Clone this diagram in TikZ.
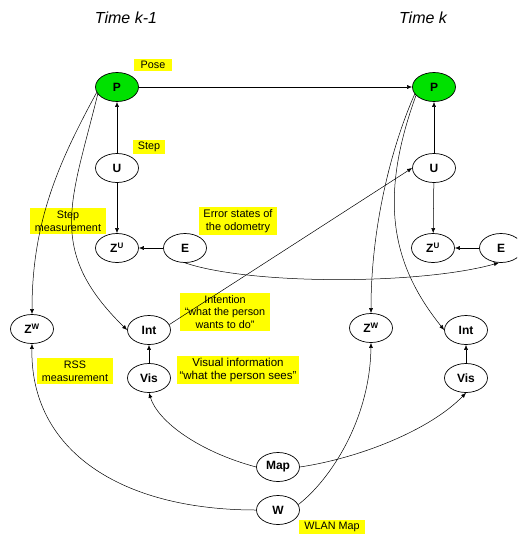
\documentclass[tikz,border=0pt]{standalone}
\usepackage{fontspec}
\setmainfont{Liberation Sans}
\usetikzlibrary{shapes.geometric,arrows.meta}
\definecolor{posegreen}{RGB}{0,225,0}
\definecolor{labyellow}{RGB}{255,255,0}
\tikzset{
  var/.style={ellipse,draw,line width=0.7pt,minimum width=43pt,minimum height=29pt,inner sep=0pt,font=\fontsize{12}{14}\selectfont\bfseries},
  posevar/.style={var,fill=posegreen},
  lab/.style={fill=labyellow,inner xsep=5pt,inner ysep=2.5pt,align=center,font=\fontsize{10.8}{12.8}\selectfont},
  ttl/.style={font=\fontsize{16}{18}\selectfont\itshape},
  arr/.style={-{Latex[length=5pt,width=4pt]},line width=0.5pt}
}
\begin{document}
\begin{tikzpicture}[x=1pt,y=1pt]
\useasboundingbox (0,0) rectangle (517,-535);
\clip (0,0) rectangle (517,-535);
% titles
\node[ttl] (t1) at (126,-18) {Time k-1};
\node[ttl] (t2) at (423,-18) {Time k};
% nodes time k-1
\node[posevar] (P1) at (117,-87) {P};
\node[var] (U1) at (117,-168) {U};
\node[var] (ZU1) at (117,-248) {Z\textsuperscript{U}};
\node[var] (E1) at (185,-248) {E};
\node[var] (ZW1) at (32,-329) {Z\textsuperscript{W}};
\node[var] (Int1) at (149,-330) {Int};
\node[var] (Vis1) at (149,-378) {Vis};
% nodes time k
\node[posevar] (P2) at (434,-87) {P};
\node[var] (U2) at (434,-168) {U};
\node[var] (ZU2) at (433,-248) {Z\textsuperscript{U}};
\node[var] (E2) at (501,-248) {E};
\node[var] (ZW2) at (371,-328) {Z\textsuperscript{W}};
\node[var] (Int2) at (466,-330) {Int};
\node[var] (Vis2) at (466,-378) {Vis};
% shared
\node[var] (Map) at (278,-467) {Map};
\node[var] (W) at (278,-510) {W};
% labels
\node[lab,inner xsep=7pt] (lPose) at (153,-65) {Pose};
\node[lab] (lStep) at (149,-147) {Step};
\node[lab] (lStepM) at (68,-221) {Step\\measurement};
\node[lab,inner xsep=4pt,font=\fontsize{11}{13}\selectfont] (lErr) at (238,-221) {Error states of\\the odometry};
\node[lab] (lInt) at (225,-312) {Intention\\“what the person\\wants to do”};
\node[lab] (lRSS) at (75,-371) {RSS\\measurement};
\node[lab,inner xsep=3pt,font=\fontsize{11.5}{13}\selectfont] (lVis) at (238,-370) {Visual information\\“what the person sees”};
\node[lab] (lWLAN) at (332,-527) {WLAN Map};
% edges
\draw[arr] (P1.east) -- (P2.west);
\draw[arr] (U1) -- (P1);
\draw[arr] (U1) -- (ZU1);
\draw[arr] (E1) -- (ZU1);
\draw[arr] (U2) -- (P2);
\draw[arr] (U2) -- (ZU2);
\draw[arr] (E2) -- (ZU2);
\draw[arr] (Vis1) -- (Int1);
\draw[arr] (Vis2) -- (Int2);
\draw[arr] (P1.195) .. controls (60,-160) and (32,-220) .. (ZW1.north);
\draw[arr] (P1.200) .. controls (72,-200) and (45,-250) .. (Int1.west);
\draw[arr] (P2.200) .. controls (390,-150) and (371,-230) .. (ZW2.north);
\draw[arr] (P2.205) .. controls (378,-200) and (392,-265) .. (Int2.west);
\draw[arr] (Int1.15) -- (U2.west);
\draw[arr] (E1.south) .. controls (250,-285) and (420,-285) .. (E2.262);
\draw[arr] (Map.west) .. controls (200,-452) and (158,-422) .. (Vis1.south);
\draw[arr] (Map.east) .. controls (360,-458) and (430,-430) .. (Vis2.south);
\draw[arr] (W.west) .. controls (120,-510) and (30,-450) .. (ZW1.south);
\draw[arr] (W.15) .. controls (330,-480) and (370,-420) .. (ZW2.south);
\end{tikzpicture}
\end{document}
